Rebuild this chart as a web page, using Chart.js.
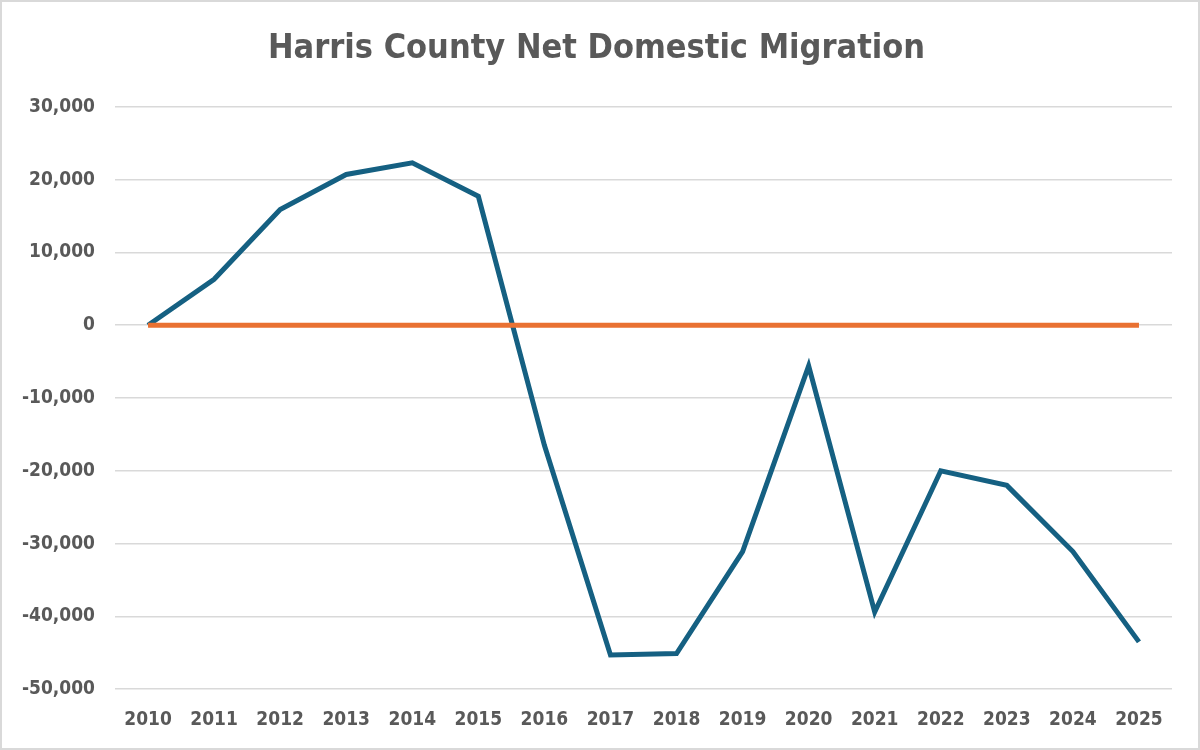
<!DOCTYPE html>
<html>
<head>
<meta charset="utf-8">
<script src="https://cdn.jsdelivr.net/npm/chart.js@4"></script>
<style>
  body { margin: 0; background: #fff; }
  #wrap { width: 1196px; height: 746px; border: 2px solid #d9d9d9; background: #fff; }
</style>
</head>
<body>
<div id="wrap"><canvas id="line_chart" width="1196" height="746"></canvas></div>
<script>
// years and values
var years = ["2010", "2011", "2012", "2013", "2014", "2015", "2016", "2017",
             "2018", "2019", "2020", "2021", "2022", "2023", "2024", "2025"];
var migration = [0, 6300, 15900, 20700, 22300, 17700, -16500, -45300,
                 -45100, -31100, -5600, -39400, -20000, -22000, -31100, -43500];
var zeroLine = [0, 0, 0, 0, 0, 0, 0, 0, 0, 0, 0, 0, 0, 0, 0, 0];

var grey = "#595959";
var fontFam = "'DejaVu Sans Condensed', Roboto, sans-serif";

var ctx = document.getElementById("line_chart");
var chart = new Chart(ctx, {
    type: "line",
    data: {
        labels: years,
        datasets: [{
            label: "Zero",
            data: zeroLine,
            borderColor: "#E97132",
            borderWidth: 5,
            pointRadius: 0,
            fill: false,
            tension: 0
        }, {
            label: "Net Domestic Migration",
            data: migration,
            borderColor: "#156082",
            borderWidth: 5,
            pointRadius: 0,
            fill: false,
            tension: 0
        }]
    },
    options: {
        responsive: false,
        animation: false,
        layout: { padding: { left: 19, right: 26, top: 12, bottom: 6 } },
        plugins: {
            legend: { display: false },
            tooltip: { enabled: false },
            title: {
                display: true,
                text: "Harris County Net Domestic Migration",
                color: grey,
                font: { family: fontFam, size: 34, weight: "bold" },
                padding: { top: 15, bottom: 37 }
            }
        },
        scales: {
            x: {
                offset: true,
                grid: { display: false },
                border: { display: false },
                ticks: {
                    color: grey,
                    font: { family: fontFam, size: 19, weight: "bold" },
                    padding: 11
                }
            },
            y: {
                min: -50000,
                max: 30000,
                afterFit: function (scale) { scale.width = 94; },
                grid: { color: "#d9d9d9", lineWidth: 1.5, drawTicks: false },
                border: { display: false },
                ticks: {
                    stepSize: 10000,
                    color: grey,
                    padding: 20,
                    font: { family: fontFam, size: 19, weight: "bold" },
                    callback: function (v) { return v.toLocaleString("en-US"); }
                }
            }
        }
    }
});
</script>
</body>
</html>
